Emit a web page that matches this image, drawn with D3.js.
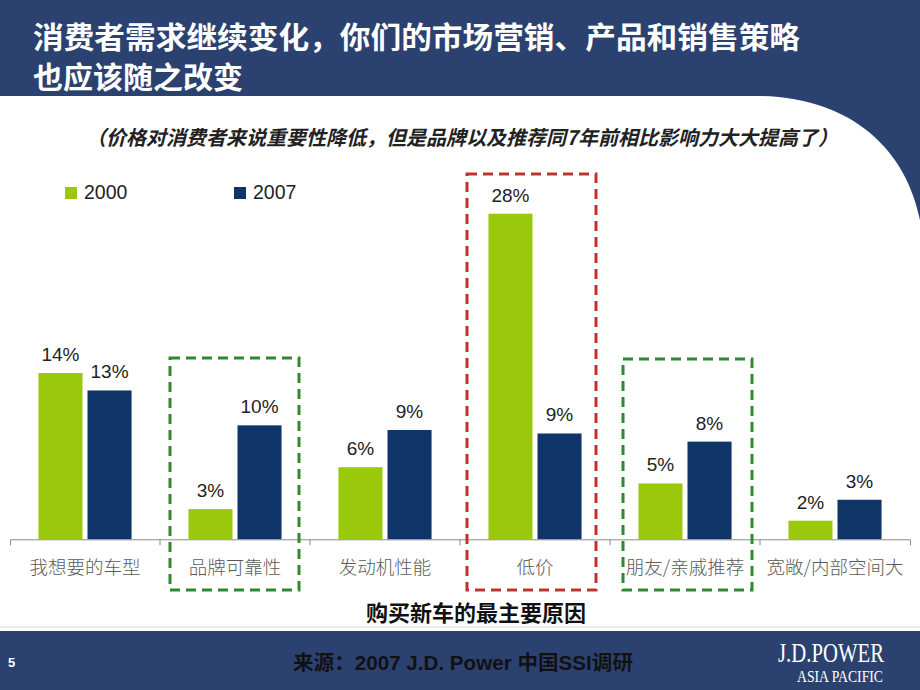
<!DOCTYPE html>
<html><head><meta charset="utf-8">
<script src="https://cdn.jsdelivr.net/npm/d3@7/dist/d3.min.js"></script>
<style>body{margin:0;background:#fff}svg{display:block}</style>
</head><body>
<script>
// ---------- data ----------
const categories = ["我想要的车型","品牌可靠性","发动机性能","低价","朋友/亲戚推荐","宽敞/内部空间大"];
const seriesNames = ["2000","2007"];
const values2000 = [14.3, 2.6, 6.2, 28.0, 4.8, 1.6];
const values2007 = [12.8, 9.8, 9.4, 9.1, 8.4, 3.4];
const seriesColors = ["#99c90a","#0e3468"];
const titleLines = ["消费者需求继续变化，你们的市场营销、产品和销售策略","也应该随之改变"];
const subtitle = "（价格对消费者来说重要性降低，但是品牌以及推荐同7年前相比影响力大大提高了）";
const axisTitle = "购买新车的最主要原因";
const sourceText = "来源：2007 J.D. Power 中国SSI调研";
const pageNumber = "5";

// ---------- setup ----------
const W = 920, H = 690;
const navy = "#2b4270";
const cjk = "'Noto Sans CJK SC', sans-serif";
const latin = "'Liberation Sans', Arial, 'Noto Sans CJK SC', sans-serif";
const svg = d3.select("body").append("svg").attr("width", W).attr("height", H);

// header band
svg.append("rect").attr("x",0).attr("y",0).attr("width",W).attr("height",96).attr("fill",navy);
svg.append("path").attr("d","M758,96 C852,97 906,150 920,220 L920,96 Z").attr("fill",navy);
const tl = svg.append("g").selectAll("text").data(titleLines).join("text")
  .attr("x",33).attr("y",(d,i)=>48+i*40)
  .attr("fill","#fff").attr("font-family",cjk).attr("font-weight","bold")
  .attr("font-size",29.5).text(d=>d);
tl.filter((d,i)=>i===0).attr("textLength",767).attr("lengthAdjust","spacingAndGlyphs");
tl.filter((d,i)=>i===1).attr("textLength",210).attr("lengthAdjust","spacingAndGlyphs");

// subtitle
svg.append("text").attr("x",462).attr("y",145).attr("text-anchor","middle")
  .attr("font-family",cjk).attr("font-weight","bold").attr("font-style","italic")
  .attr("font-size",20).attr("fill","#222").text(subtitle);

// scales
const baseY = 539.3;
const x = d3.scaleBand().domain(categories).range([10,910]).padding(0);
const xs = d3.scaleBand().domain(seriesNames).range([0,x.bandwidth()]).paddingInner(0.102).paddingOuter(0.58);
const y = d3.scaleLinear().domain([0,28]).range([baseY,213.7]);

const rows = categories.map((c,i)=>({cat:c, vals:[values2000[i], values2007[i]]}));

// bars
const g = svg.append("g");
const cg = g.selectAll("g.cat").data(rows).join("g").attr("class","cat")
  .attr("transform",d=>`translate(${x(d.cat)},0)`);
cg.selectAll("rect").data(d=>d.vals.map((v,i)=>({s:seriesNames[i],v,i}))).join("rect")
  .attr("x",d=>xs(d.s)).attr("width",xs.bandwidth())
  .attr("y",d=>y(d.v)).attr("height",d=>baseY-y(d.v))
  .attr("fill",d=>seriesColors[d.i]);
cg.selectAll("text.val").data(d=>d.vals.map((v,i)=>({s:seriesNames[i],v,i}))).join("text")
  .attr("class","val")
  .attr("x",d=>xs(d.s)+xs.bandwidth()/2).attr("y",d=>y(d.v)-12)
  .attr("text-anchor","middle").attr("font-family",latin).attr("font-size",19)
  .attr("fill","#222").text(d=>Math.round(d.v)+"%");

// axis
const axis = d3.axisBottom(x).tickSize(0).tickSizeOuter(6).tickPadding(0);
const ag = svg.append("g").attr("transform",`translate(0,${baseY})`).call(axis);
ag.select(".domain").attr("stroke","#8a8a8a");
ag.selectAll(".tick text").attr("y",34.5).attr("dy",null)
  .attr("font-family",cjk).attr("font-weight",300).attr("font-size",18.5).attr("fill","#5a5a5a");
ag.selectAll("line.bound").data(categories.slice(1)).join("line").attr("class","bound")
  .attr("x1",d=>x(d)).attr("x2",d=>x(d)).attr("y1",0).attr("y2",6).attr("stroke","#8a8a8a");

// highlight boxes
const boxes = [
  {cat:"品牌可靠性", color:"#2f8a2f", dx:10, top:358},
  {cat:"低价", color:"#c4302b", dx:7, top:174},
  {cat:"朋友/亲戚推荐", color:"#2f8a2f", dx:13, top:359}
];
svg.append("g").selectAll("rect").data(boxes).join("rect")
  .attr("x",d=>x(d.cat)+d.dx).attr("y",d=>d.top)
  .attr("width",129).attr("height",d=>590-d.top)
  .attr("fill","none").attr("stroke",d=>d.color).attr("stroke-width",3)
  .attr("stroke-dasharray","10,6");

// legend
const lg = svg.append("g");
seriesNames.forEach((s,i)=>{
  const lx = 65 + i*169;
  lg.append("rect").attr("x",lx).attr("y",187).attr("width",12).attr("height",12).attr("fill",seriesColors[i]);
  lg.append("text").attr("x",lx+19).attr("y",199).attr("font-family",latin).attr("font-size",19.5)
    .attr("fill","#222").text(s);
});

// axis title
svg.append("text").attr("x",476).attr("y",621).attr("text-anchor","middle")
  .attr("font-family",cjk).attr("font-weight","bold").attr("font-size",22).attr("fill","#111").text(axisTitle);

// footer
svg.append("rect").attr("x",0).attr("y",626).attr("width",W).attr("height",2).attr("fill","#ececec");
svg.append("rect").attr("x",0).attr("y",631).attr("width",W).attr("height",59).attr("fill",navy);
svg.append("text").attr("x",8).attr("y",667).attr("font-family",latin).attr("font-weight","bold")
  .attr("font-size",13).attr("fill","#fff").text(pageNumber);
svg.append("text").attr("x",293).attr("y",670)
  .attr("font-family",latin).attr("font-weight","bold").attr("font-size",20).attr("fill","#111")
  .attr("textLength",340).attr("lengthAdjust","spacingAndGlyphs").text(sourceText);
svg.append("text").attr("x",778).attr("y",662).attr("font-family","'Liberation Serif', 'DejaVu Serif', serif")
  .attr("font-size",28).attr("fill","#fff").attr("textLength",106).attr("lengthAdjust","spacingAndGlyphs").text("J.D.POWER");
svg.append("text").attr("x",797).attr("y",682).attr("font-family","'Liberation Serif', 'DejaVu Serif', serif")
  .attr("font-size",16).attr("fill","#fff").attr("textLength",86).attr("lengthAdjust","spacingAndGlyphs").text("ASIA PACIFIC");
</script>
</body></html>
